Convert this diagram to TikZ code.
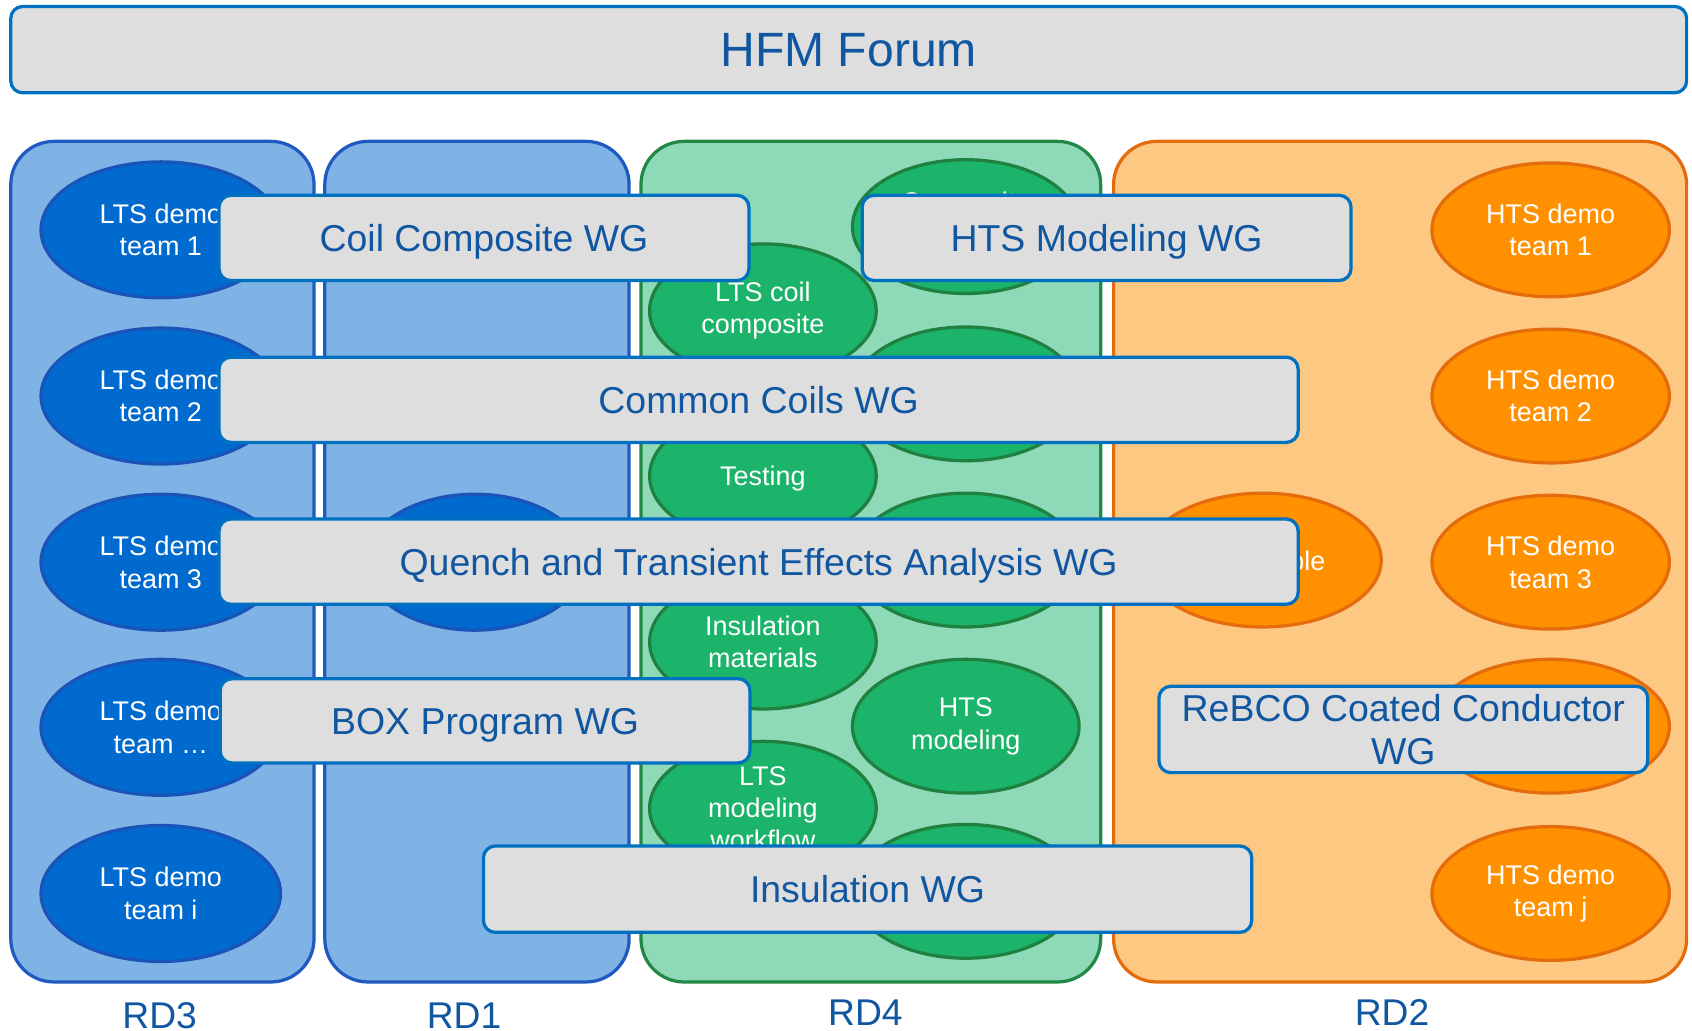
\documentclass[tikz,border=0pt]{standalone}
\usepackage{fontspec}
\setmainfont{Liberation Sans}
\usetikzlibrary{shapes.geometric}

\definecolor{wgfill}{RGB}{222,222,222}
\definecolor{wgline}{RGB}{0,112,192}
\definecolor{wgtext}{RGB}{16,86,160}
\definecolor{bluecol}{RGB}{128,179,229}
\definecolor{blueline}{RGB}{30,90,192}
\definecolor{blueell}{RGB}{0,106,206}
\definecolor{blueellline}{RGB}{26,84,184}
\definecolor{greencol}{RGB}{142,218,184}
\definecolor{greenline}{RGB}{34,136,70}
\definecolor{greenell}{RGB}{27,180,106}
\definecolor{greenellline}{RGB}{32,128,64}
\definecolor{orangecol}{RGB}{253,200,130}
\definecolor{orangeline}{RGB}{228,108,12}
\definecolor{orangeell}{RGB}{255,145,0}

\tikzset{
  column/.style={draw, line width=3pt, rounded corners=40pt, inner sep=0pt},
  bluecolumn/.style={column, draw=blueline, fill=bluecol},
  greencolumn/.style={column, draw=greenline, fill=greencol},
  orangecolumn/.style={column, draw=orangeline, fill=orangecol},
  team/.style={ellipse, inner sep=0pt, line width=3pt, text=white,
    align=center, font=\fontsize{25}{30}\selectfont},
  blueteam/.style={team, draw=blueellline, fill=blueell,
    minimum width=222pt, minimum height=126pt},
  greenteam/.style={team, draw=greenellline, fill=greenell,
    minimum width=210pt, minimum height=124pt},
  orangeteam/.style={team, draw=orangeline, fill=orangeell,
    minimum width=220pt, minimum height=124pt},
  wg/.style={draw=wgline, fill=wgfill, line width=3pt, rounded corners=11pt,
    inner sep=0pt, text=wgtext, align=center,
    font=\fontsize{34.7}{40}\selectfont},
  oneline/.style={text height=25pt, text depth=0pt},
  rdlabel/.style={text=wgtext, inner sep=0pt, anchor=base,
    font=\fontsize{34.5}{40}\selectfont}
}

\begin{document}
\begin{tikzpicture}[x=1pt, y=-1pt]
\useasboundingbox (0,0) rectangle (1568,955);
\fill[white] (0,0) rectangle (1568,955);

% forum banner
\node[wg, minimum width=1553pt, minimum height=80pt, text height=32pt,
  text depth=0pt, font=\fontsize{44.6}{50}\selectfont] (forum) at (786.5,46) {HFM Forum};

% RD columns
\node[bluecolumn, minimum width=281pt, minimum height=779pt] (rd3) at (150.5,520.5) {};
\node[bluecolumn, minimum width=282pt, minimum height=779pt] (rd1) at (442,520.5) {};
\node[greencolumn, minimum width=426pt, minimum height=779pt] (rd4) at (807,520.5) {};
\node[orangecolumn, minimum width=531pt, minimum height=779pt] (rd2) at (1297.5,520.5) {};

\node[rdlabel] (rd3lab) at (148,953) {RD3};
\node[rdlabel] (rd1lab) at (430,953) {RD1};
\node[rdlabel] (rd4lab) at (802,950) {RD4};
\node[rdlabel] (rd2lab) at (1290,950) {RD2};

% RD3 teams
\node[blueteam] (lts1) at (149,213) {LTS demo\\team 1};
\node[blueteam] (lts2) at (149,367) {LTS demo\\team 2};
\node[blueteam] (lts3) at (149,521) {LTS demo\\team 3};
\node[blueteam] (ltsn) at (149,674) {LTS demo\\team \dots};
\node[blueteam] (ltsi) at (149,828) {LTS demo\\team i};

% RD1 team
\node[blueteam, minimum width=204pt] (rd1team) at (440,521) {};

% RD4 activities
\node[greenteam] (ltscoil) at (707,288) {LTS coil\\composite};
\node[greenteam] (testing) at (707,441) {};
\node[team, oneline, text height=18pt] (testingtext) at (707,441) {Testing};
\node[greenteam] (insmat) at (707,595) {Insulation\\materials};
\node[greenteam] (ltsmod) at (707,749) {LTS\\modeling\\workflow};
\node[greenteam] (compo) at (895,210) {};
\node[team, anchor=base] (compotext) at (895,196) {Composite};
\node[greenteam] (g2) at (895,365) {};
\node[greenteam] (g3) at (895,519) {};
\node[greenteam] (htsmod) at (895,673) {HTS\\modeling};
\node[greenteam] (g5) at (895,826) {};

% RD2 teams
\node[orangeteam] (cable) at (1170,519) {};
\node[team, text height=18pt, text depth=0pt] (cabletext) at (1170,520) {HTS cable};
\node[orangeteam] (hts1) at (1437,213) {HTS demo\\team 1};
\node[orangeteam] (hts2) at (1437,367) {HTS demo\\team 2};
\node[orangeteam] (hts3) at (1437,521) {HTS demo\\team 3};
\node[orangeteam] (hts4) at (1437,673) {};
\node[orangeteam] (htsj) at (1437,828) {HTS demo\\team j};

% working groups
\node[wg, oneline, minimum width=491pt, minimum height=79pt] (coilwg) at (448.5,220.5) {Coil Composite WG};
\node[wg, oneline, minimum width=453pt, minimum height=79pt] (htsmodwg) at (1025.5,220.5) {HTS Modeling WG};
\node[wg, oneline, minimum width=1000pt, minimum height=79pt] (commonwg) at (703,370.5) {Common Coils WG};
\node[wg, oneline, minimum width=1000pt, minimum height=79pt] (quenchwg) at (703,520.5) {Quench and Transient Effects Analysis WG};
\node[wg, oneline, minimum width=491pt, minimum height=78pt] (boxwg) at (449.5,668) {BOX Program WG};
\node[wg, minimum width=453pt, minimum height=80pt] (rebcowg) at (1300.5,676) {ReBCO Coated Conductor\\WG};
\node[wg, oneline, minimum width=712pt, minimum height=80pt] (inswg) at (804,824) {Insulation WG};
\end{tikzpicture}
\end{document}
